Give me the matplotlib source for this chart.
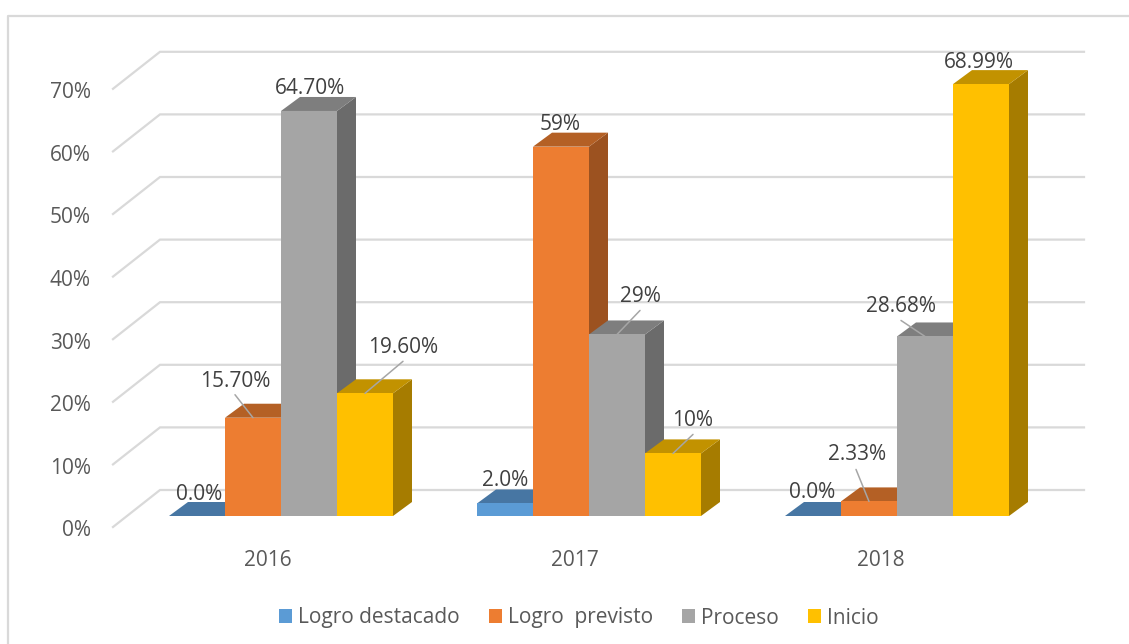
"""3D-look clustered bars: logro por anio, drawn with plain 2D polygons."""
import matplotlib
matplotlib.use("Agg")
import matplotlib.pyplot as plt
from matplotlib.lines import Line2D
from matplotlib.patches import Patch

YEARS = ["2016", "2017", "2018"]
SERIES = ["Logro destacado", "Logro  previsto", "Proceso", "Inicio"]
LOGRO_DESTACADO = [0.0, 2.0, 0.0]
LOGRO_PREVISTO = [15.70, 59, 2.33]
PROCESO = [64.70, 29, 28.68]
INICIO = [19.60, 10, 68.99]
VALUES = [LOGRO_DESTACADO, LOGRO_PREVISTO, PROCESO, INICIO]
LABELS = [
    ["0.0%", "2.0%", "0.0%"],
    ["15.70%", "59%", "2.33%"],
    ["64.70%", "29%", "28.68%"],
    ["19.60%", "10%", "68.99%"],
]
Y_TICKS = [0, 10, 20, 30, 40, 50, 60, 70]

# front / top / side shade per series
FRONT = ["#5B9BD5", "#ED7D31", "#A5A5A5", "#FFC000"]
TOP = ["#4776A3", "#B46025", "#7E7E7E", "#C29200"]
SIDE = ["#3E6A94", "#9C5220", "#6B6B6B", "#A67C00"]
GRID = "#D9D9D9"
TEXT = "#595959"
LABEL_TEXT = "#404040"

# pixel layout of the 1129x644 figure
W, H = 1129, 644
X0_PX, Y0_PX = 281, 516      # centre of first group, front baseline
CAT_PX, PCT_PX = 308, 6.26   # px per category, px per 1%
BAR_PX = 56
DEPTH_X, DEPTH_Y = 19, 14    # bar depth

# label offset from bar top centre (px, y up) and leader end if there is one
LABEL_OFF = [
    [(2, 22), (0, 23), (-1, 24)],
    [(-18, 36), (-1, 22), (-12, 47)],
    [(1, 22), (23, 38), (-24, 30)],
    [(38, 46), (20, 33), (-2, 22)],
]
LEADER_OFF = [
    [None, None, None],
    [(-18, 23), None, (-13, 32)],
    [None, (23, 24), (-24, 16)],
    [(38, 32), (20, 19), None],
]
YEAR_OFF = [-13, -14, -16]

plt.rcParams["font.family"] = ["Open Sans", "DejaVu Sans"]

fig = plt.figure(figsize=(W / 100, H / 100), dpi=100)
ax = fig.add_axes([0, 0, 1, 1])
ax.set_xlim(-X0_PX / CAT_PX, (W - X0_PX) / CAT_PX)
ax.set_ylim(-(H - Y0_PX) / PCT_PX, Y0_PX / PCT_PX)
ax.axis("off")

# px lengths in data units
ux = 1 / CAT_PX
uy = 1 / PCT_PX
bar_w = BAR_PX * ux
dx = DEPTH_X * ux
dy = DEPTH_Y * uy

# outer frame, only top and left survive in the picture
fig.add_artist(Line2D([8 / W, 8 / W, 1], [0, 1 - 16 / H, 1 - 16 / H],
                      color=GRID, linewidth=1.6))

# ===== GRID =====
for v in Y_TICKS:
    y_back = v + 26 * uy
    y_front = v - 11 * uy
    ax.plot([(113 - X0_PX) * ux, (160 - X0_PX) * ux, (1084 - X0_PX) * ux],
            [y_front, y_back, y_back], color=GRID, linewidth=1.6, zorder=1,
            solid_joinstyle="miter")
    ax.text((91 - X0_PX) * ux, y_front - 4 * uy, f"{v}%", ha="right", va="center",
            fontsize=15, color=TEXT)

# ===== BARS =====
z = 2
for g, year in enumerate(YEARS):
    for s in range(len(SERIES)):
        val = VALUES[s][g]
        left = g + (s - 2) * bar_w
        right = left + bar_w
        ax.fill([right, right + dx, right + dx, right],
                [0, dy, val + dy, val], color=SIDE[s], linewidth=0, zorder=z)
        ax.fill([left, left + dx, right + dx, right],
                [val, val + dy, val + dy, val], color=TOP[s], linewidth=0, zorder=z)
        if val > 0:
            ax.bar(left, val, width=bar_w, align="edge", color=FRONT[s],
                   linewidth=0, zorder=z)
        z += 1
    ax.text(g + YEAR_OFF[g] * ux, -45 * uy, year, ha="center", va="center",
            fontsize=15, color=TEXT)

# ===== DATA LABELS =====
for s in range(len(SERIES)):
    for g in range(len(YEARS)):
        val = VALUES[s][g]
        anchor = (g + (s - 2) * bar_w + bar_w / 2, val)
        leader = LEADER_OFF[s][g]
        if leader is not None:
            ax.annotate("", xy=anchor, xytext=leader, textcoords="offset pixels",
                        arrowprops=dict(arrowstyle="-", color="#A6A6A6", linewidth=1.1,
                                        shrinkA=0, shrinkB=0),
                        zorder=50)
        ax.annotate(LABELS[s][g], xy=anchor, xytext=LABEL_OFF[s][g],
                    textcoords="offset pixels", ha="center", va="center",
                    fontsize=15, color=LABEL_TEXT, zorder=51)

# ===== LEGEND =====
handles = [Patch(facecolor=c, edgecolor="none", label=n) for c, n in zip(FRONT, SERIES)]
ax.legend(handles=handles, ncol=4, loc="center",
          bbox_to_anchor=(579 / W, 1 - 618 / H), bbox_transform=fig.transFigure,
          frameon=False, fontsize=15, labelcolor=TEXT,
          handlelength=0.63, handleheight=0.63, handletextpad=0.3,
          columnspacing=1.38, borderpad=0)

fig.savefig("out.png", dpi=100)
